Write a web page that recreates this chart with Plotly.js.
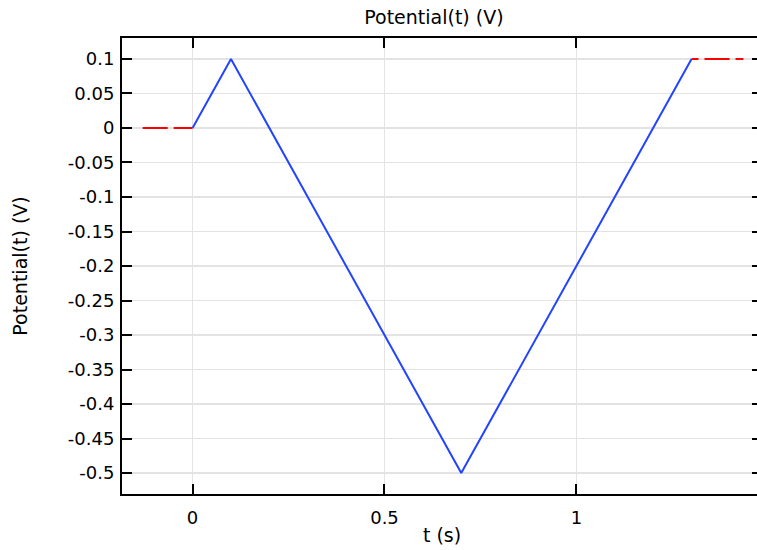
<!DOCTYPE html>
<html><head><meta charset="utf-8">
<script src="https://cdn.plot.ly/plotly-3.0.1.min.js"></script>
<style>html,body{margin:0;padding:0;background:#fff;overflow:hidden}#c{width:764px;height:550px}</style>
</head><body><div id="c"></div>
<script>
const tSweep = [0, 0.1, 0.7, 1.3];
const vSweep = [0, 0.1, -0.5, 0.1];
const tBefore = [-0.13, 0];
const vBefore = [0, 0];
const tAfter = [1.3, 1.435];
const vAfter = [0.1, 0.1];
const yTickVals = [0.1, 0.05, 0, -0.05, -0.1, -0.15, -0.2, -0.25, -0.3, -0.35, -0.4, -0.45, -0.5];
const yTickText = ["0.1", "0.05", "0", "-0.05", "-0.1", "-0.15", "-0.2", "-0.25", "-0.3", "-0.35", "-0.4", "-0.45", "-0.5"];
const xTickVals = [0, 0.5, 1];
const xTickText = ["0", "0.5", "1"];

const tickFont = {family: "DejaVu Sans", size: 18, color: "#000"};
const titleFont = {family: "DejaVu Sans", size: 19, color: "#000"};
const traces = [
  {x: tBefore, y: vBefore, mode: "lines", line: {color: "#ff0000", width: 2, dash: "25px,6px"}, hoverinfo: "skip"},
  {x: tAfter, y: vAfter, mode: "lines", line: {color: "#ff0000", width: 2, dash: "7px,6px,25px,6px,25px"}, hoverinfo: "skip"},
  {x: tSweep, y: vSweep, mode: "lines", line: {color: "#2244ff", width: 2}}
];
const axCommon = {
  showline: true, linecolor: "#000", linewidth: 2, mirror: "ticks",
  ticks: "inside", ticklen: 10, tickwidth: 2, tickcolor: "#000",
  showgrid: true, gridcolor: "#e3e3e3", gridwidth: 1.5, zeroline: false,
  tickfont: tickFont
};
const layout = {
  width: 764, height: 550,
  margin: {l: 122, r: 2, t: 38, b: 56},
  paper_bgcolor: "#fff", plot_bgcolor: "#fff",
  showlegend: false,
  font: tickFont,
  title: {text: "Potential(t) (V)", font: titleFont, xref: "container", x: 0.568, xanchor: "center", yref: "container", y: 0.968, yanchor: "middle"},
  xaxis: Object.assign({}, axCommon, {range: [-0.1839, 1.4836], tickvals: xTickVals, ticktext: xTickText, ticklabelstandoff: 6,
    title: {text: "t (s)", font: titleFont, standoff: 2}}),
  yaxis: Object.assign({}, axCommon, {range: [-0.5304, 0.1304], tickvals: yTickVals, ticktext: yTickText, ticklabelstandoff: 2,
    title: {text: "Potential(t) (V)", font: titleFont, standoff: 35}})
};
Plotly.newPlot("c", traces, layout, {displayModeBar: false, staticPlot: true});
</script></body></html>
